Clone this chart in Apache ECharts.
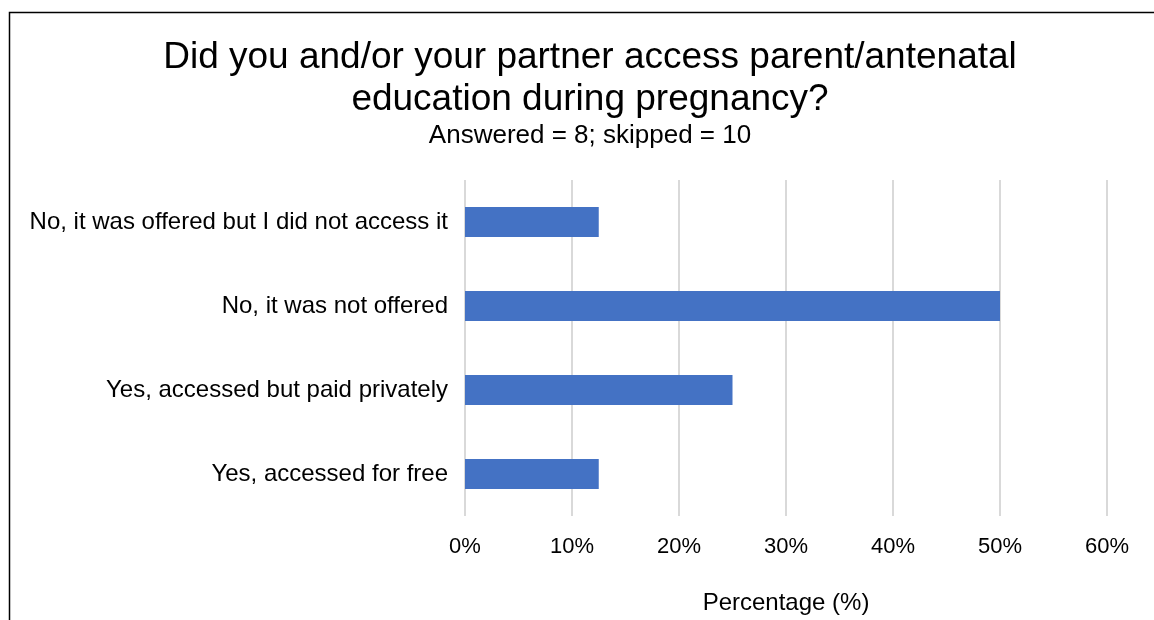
<!DOCTYPE html>
<html>
<head>
<meta charset="utf-8">
<script src="https://cdn.jsdelivr.net/npm/echarts@6/dist/echarts.min.js"></script>
<style>
  html, body { margin: 0; padding: 0; background: #fff; }
  #chart { width: 1154px; height: 620px; }
</style>
</head>
<body>
<div id="chart"></div>
<script>
const categories = [
  'No, it was offered but I did not access it',
  'No, it was not offered',
  'Yes, accessed but paid privately',
  'Yes, accessed for free'
];
const percentages = [12.5, 50, 25, 12.5];

const chart = echarts.init(document.getElementById('chart'));

const option = {
  textStyle: { fontFamily: 'Liberation Sans, Arial, sans-serif' },
  // outer frame, runs off the right and bottom edges like the source image
  graphic: [{
    type: 'rect',
    left: 7,
    top: 10,
    shape: { width: 1300, height: 800 },
    style: { fill: 'none', stroke: '#000', lineWidth: 1.5 },
    silent: true
  }],
  title: {
    text: 'Did you and/or your partner access parent/antenatal\neducation during pregnancy?',
    subtext: 'Answered = 8; skipped = 10',
    left: 585,
    textAlign: 'center',
    top: 32,
    itemGap: 1,
    textStyle: {
      fontFamily: 'Liberation Sans, Arial, sans-serif',
      fontSize: 37,
      fontWeight: 'normal',
      color: '#000',
      lineHeight: 42
    },
    subtextStyle: {
      fontFamily: 'Liberation Sans, Arial, sans-serif',
      fontSize: 26,
      lineHeight: 28,
      color: '#000'
    }
  },
  grid: {
    left: 465,
    right: 47,
    top: 180,
    bottom: 104
  },
  xAxis: {
    type: 'value',
    min: 0,
    max: 60,
    interval: 10,
    name: 'Percentage (%)',
    nameLocation: 'middle',
    nameGap: 75,
    nameTextStyle: { fontSize: 24, color: '#000' },
    axisLine: { show: false },
    axisTick: { show: false },
    axisLabel: {
      formatter: '{value}%',
      fontSize: 22,
      color: '#000',
      margin: 20
    },
    splitLine: { lineStyle: { color: '#d9d9d9', width: 2 } }
  },
  yAxis: {
    type: 'category',
    data: categories,
    inverse: true,
    axisLine: { show: false },
    axisTick: { show: false },
    axisLabel: { fontSize: 24, color: '#000', margin: 17 }
  },
  series: [{
    type: 'bar',
    data: percentages,
    barWidth: 30,
    itemStyle: { color: '#4472C4' },
    silent: true
  }]
};

chart.setOption(option);
</script>
</body>
</html>
